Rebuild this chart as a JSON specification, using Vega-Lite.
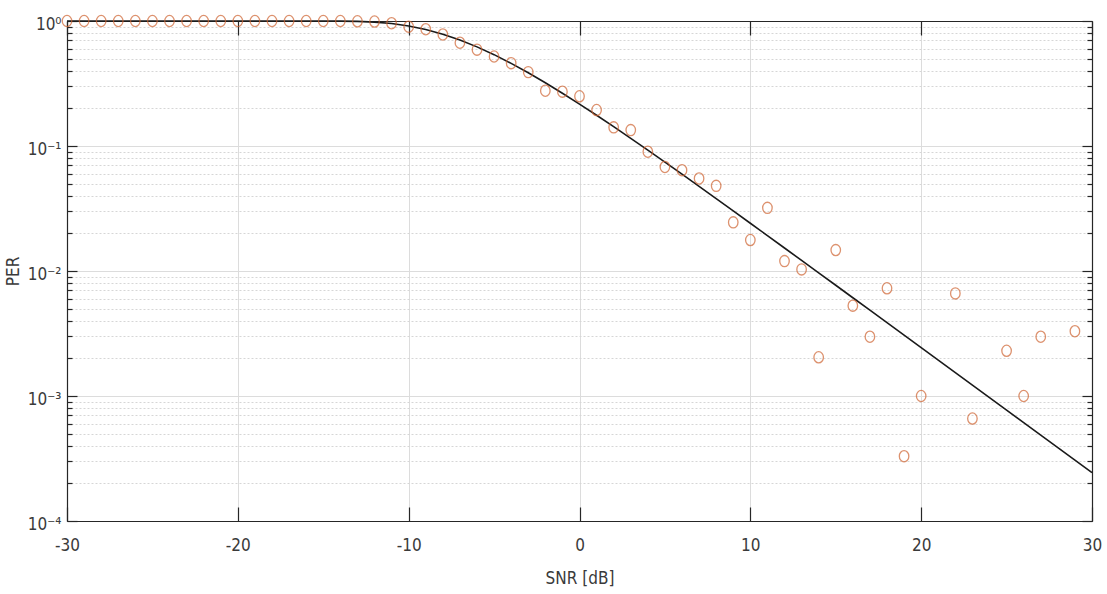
{
  "$schema": "https://vega.github.io/schema/vega-lite/v6.json",
  "width": 1025,
  "height": 500,
  "autosize": "none",
  "padding": {"left": 67, "top": 21, "right": 15, "bottom": 73},
  "background": "white",
  "config": {
    "view": {"stroke": null},
    "font": "DejaVu Sans Condensed, Liberation Sans, Arial, sans-serif",
    "axis": {
      "labelFont": "DejaVu Sans Condensed, Liberation Sans, Arial, sans-serif",
      "titleFont": "DejaVu Sans Condensed, Liberation Sans, Arial, sans-serif",
      "labelFontSize": 17,
      "titleFontSize": 17,
      "titleFontWeight": "normal",
      "labelColor": "#3a3a3a",
      "titleColor": "#3a3a3a",
      "domainColor": "#262626",
      "domainWidth": 1.2,
      "tickColor": "#262626",
      "tickWidth": 1.2
    }
  },
  "datasets": {
    "curve": [
      {"snr": -30, "per": 1.0}, {"snr": -29, "per": 1.0}, {"snr": -28, "per": 1.0}, {"snr": -27, "per": 1.0},
      {"snr": -26, "per": 1.0}, {"snr": -25, "per": 1.0}, {"snr": -24, "per": 1.0}, {"snr": -23, "per": 1.0},
      {"snr": -22, "per": 1.0}, {"snr": -21, "per": 1.0}, {"snr": -20, "per": 1.0}, {"snr": -19, "per": 1.0},
      {"snr": -18, "per": 1.0}, {"snr": -17, "per": 1.0}, {"snr": -16, "per": 0.99995}, {"snr": -15, "per": 0.9996},
      {"snr": -14, "per": 0.9978}, {"snr": -13, "per": 0.9923}, {"snr": -12, "per": 0.979}, {"snr": -11, "per": 0.9537},
      {"snr": -10, "per": 0.9128}, {"snr": -9, "per": 0.856}, {"snr": -8, "per": 0.785}, {"snr": -7, "per": 0.706},
      {"snr": -6, "per": 0.621}, {"snr": -5, "per": 0.538}, {"snr": -4, "per": 0.458}, {"snr": -3, "per": 0.3855},
      {"snr": -2, "per": 0.3207}, {"snr": -1, "per": 0.2645}, {"snr": 0, "per": 0.2165}, {"snr": 1, "per": 0.1762},
      {"snr": 2, "per": 0.1427}, {"snr": 3, "per": 0.1151}, {"snr": 4, "per": 0.0926}, {"snr": 5, "per": 0.0743},
      {"snr": 6, "per": 0.0595}, {"snr": 7, "per": 0.0475}, {"snr": 8, "per": 0.0379}, {"snr": 9, "per": 0.03025},
      {"snr": 10, "per": 0.0241}, {"snr": 11, "per": 0.0192}, {"snr": 12, "per": 0.01528}, {"snr": 13, "per": 0.01215},
      {"snr": 14, "per": 0.00966}, {"snr": 15, "per": 0.00769}, {"snr": 16, "per": 0.00611}, {"snr": 17, "per": 0.00486},
      {"snr": 18, "per": 0.00386}, {"snr": 19, "per": 0.003072}, {"snr": 20, "per": 0.00244}, {"snr": 21, "per": 0.001938},
      {"snr": 22, "per": 0.00154}, {"snr": 23, "per": 0.001223}, {"snr": 24, "per": 0.000971}, {"snr": 25, "per": 0.000772},
      {"snr": 26, "per": 0.000613}, {"snr": 27, "per": 0.000487}, {"snr": 28, "per": 0.000387}, {"snr": 29, "per": 0.000307},
      {"snr": 30, "per": 0.000244}
    ],
    "points": [
      {"snr": -30, "per": 1.0}, {"snr": -29, "per": 1.0}, {"snr": -28, "per": 1.0}, {"snr": -27, "per": 1.0},
      {"snr": -26, "per": 1.0}, {"snr": -25, "per": 1.0}, {"snr": -24, "per": 1.0}, {"snr": -23, "per": 1.0},
      {"snr": -22, "per": 1.0}, {"snr": -21, "per": 1.0}, {"snr": -20, "per": 1.0}, {"snr": -19, "per": 1.0},
      {"snr": -18, "per": 1.0}, {"snr": -17, "per": 1.0}, {"snr": -16, "per": 1.0}, {"snr": -15, "per": 1.0},
      {"snr": -14, "per": 1.0}, {"snr": -13, "per": 0.995}, {"snr": -12, "per": 0.99}, {"snr": -11, "per": 0.96},
      {"snr": -10, "per": 0.90}, {"snr": -9, "per": 0.86}, {"snr": -8, "per": 0.78}, {"snr": -7, "per": 0.67},
      {"snr": -6, "per": 0.59}, {"snr": -5, "per": 0.52}, {"snr": -4, "per": 0.46}, {"snr": -3, "per": 0.39},
      {"snr": -2, "per": 0.277}, {"snr": -1, "per": 0.272}, {"snr": 0, "per": 0.25}, {"snr": 1, "per": 0.194},
      {"snr": 2, "per": 0.141}, {"snr": 3, "per": 0.134}, {"snr": 4, "per": 0.090}, {"snr": 5, "per": 0.068},
      {"snr": 6, "per": 0.064}, {"snr": 7, "per": 0.055}, {"snr": 8, "per": 0.048}, {"snr": 9, "per": 0.0245},
      {"snr": 10, "per": 0.0177}, {"snr": 11, "per": 0.032}, {"snr": 12, "per": 0.012}, {"snr": 13, "per": 0.0103},
      {"snr": 14, "per": 0.00204}, {"snr": 15, "per": 0.0147}, {"snr": 16, "per": 0.00528}, {"snr": 17, "per": 0.00298},
      {"snr": 18, "per": 0.00727}, {"snr": 19, "per": 0.00033}, {"snr": 20, "per": 0.001}, {"snr": 22, "per": 0.00662},
      {"snr": 23, "per": 0.00066}, {"snr": 25, "per": 0.0023}, {"snr": 26, "per": 0.001}, {"snr": 27, "per": 0.00298},
      {"snr": 29, "per": 0.0033}
    ]
  },
  "resolve": {"axis": {"x": "independent", "y": "independent"}},
  "layer": [
    {
      "data": {"name": "curve"},
      "mark": {"type": "line", "color": "#1a1a1a", "strokeWidth": 1.6},
      "encoding": {
        "x": {
          "field": "snr", "type": "quantitative",
          "scale": {"domain": [-30, 30], "nice": false, "zero": false},
          "axis": {
            "orient": "bottom",
            "title": "SNR [dB]",
            "values": [-30, -20, -10, 0, 10, 20, 30],
            "labelExpr": "'' + datum.value",
            "tickSize": -14,
            "labelPadding": 30,
            "labelFlush": false,
            "labelOverlap": false,
            "titlePadding": 17,
            "grid": true,
            "gridColor": "#dcdcdc",
            "gridWidth": 1
          }
        },
        "y": {
          "field": "per", "type": "quantitative",
          "scale": {"type": "log", "domain": [0.0001, 1], "nice": false},
          "axis": {
            "orient": "left",
            "title": "PER",
            "values": [0.0001, 0.0002, 0.0003, 0.0004, 0.0005, 0.0006, 0.0007, 0.0008, 0.0009,
                       0.001, 0.002, 0.003, 0.004, 0.005, 0.006, 0.007, 0.008, 0.009,
                       0.01, 0.02, 0.03, 0.04, 0.05, 0.06, 0.07, 0.08, 0.09,
                       0.1, 0.2, 0.3, 0.4, 0.5, 0.6, 0.7, 0.8, 0.9, 1],
            "labelExpr": "datum.value == 1 ? '10⁰' : datum.value == 0.1 ? '10⁻¹' : datum.value == 0.01 ? '10⁻²' : datum.value == 0.001 ? '10⁻³' : datum.value == 0.0001 ? '10⁻⁴' : ''",
            "tickSize": {"condition": {"test": "indexof([1, 0.1, 0.01, 0.001, 0.0001], datum.value) >= 0", "value": -10}, "value": -5},
            "labelPadding": 16,
            "labelOverlap": false,
            "labelFlush": false,
            "labelOffset": 3,
            "titlePadding": 5,
            "grid": true,
            "gridColor": {"condition": {"test": "indexof([1, 0.1, 0.01, 0.001, 0.0001], datum.value) >= 0", "value": "#dcdcdc"}, "value": "#d6d6d6"},
            "gridDash": {"condition": {"test": "indexof([1, 0.1, 0.01, 0.001, 0.0001], datum.value) >= 0", "value": []}, "value": [2, 2]}
          }
        }
      }
    },
    {
      "data": {"name": "points"},
      "mark": {"type": "point", "shape": "M -0.85 0 A 0.85 1 0 1 0 0.85 0 A 0.85 1 0 1 0 -0.85 0 Z", "filled": false, "color": "#cf6432", "strokeWidth": 1.3, "size": 125},
      "encoding": {
        "x": {
          "field": "snr", "type": "quantitative",
          "scale": {"domain": [-30, 30], "nice": false, "zero": false},
          "axis": {
            "orient": "top",
            "title": null,
            "values": [-30, -20, -10, 0, 10, 20, 30],
            "tickSize": -14,
            "labels": false,
            "grid": false
          }
        },
        "y": {
          "field": "per", "type": "quantitative",
          "scale": {"type": "log", "domain": [0.0001, 1], "nice": false},
          "axis": {
            "orient": "right",
            "title": null,
            "values": [0.0001, 0.0002, 0.0003, 0.0004, 0.0005, 0.0006, 0.0007, 0.0008, 0.0009,
                       0.001, 0.002, 0.003, 0.004, 0.005, 0.006, 0.007, 0.008, 0.009,
                       0.01, 0.02, 0.03, 0.04, 0.05, 0.06, 0.07, 0.08, 0.09,
                       0.1, 0.2, 0.3, 0.4, 0.5, 0.6, 0.7, 0.8, 0.9, 1],
            "tickSize": {"condition": {"test": "indexof([1, 0.1, 0.01, 0.001, 0.0001], datum.value) >= 0", "value": -10}, "value": -5},
            "labels": false,
            "grid": false
          }
        }
      }
    }
  ]
}
